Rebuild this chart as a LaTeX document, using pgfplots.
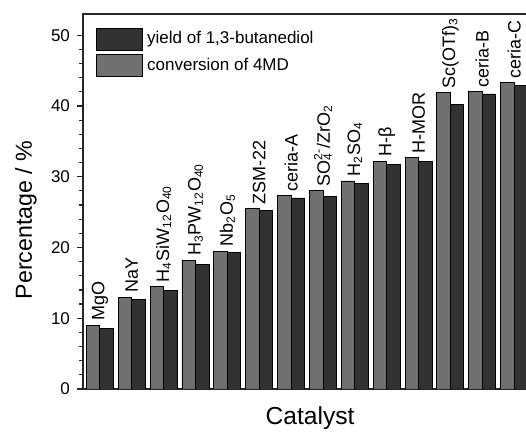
\documentclass[border=0pt]{standalone}
\usepackage{fontspec}
\setmainfont{Liberation Sans}
\usepackage{pgfplots}
\usepackage{pgfplotstable}
\pgfplotsset{compat=1.18}

\definecolor{darkbar}{RGB}{50,50,50}
\definecolor{lightbar}{RGB}{112,112,112}
\newcommand{\sbs}[1]{\textsubscript{#1}}

% conversion of 4MD (light) and yield (dark), per catalyst
\pgfplotstableread{
x conv yield label
0  9.0  8.6  MgO
1  13.0 12.7 NaY
2  14.5 13.9 {H\sbs{4}SiW\sbs{12}O\sbs{40}}
3  18.2 17.6 {H\sbs{3}PW\sbs{12}O\sbs{40}}
4  19.5 19.3 {Nb\sbs{2}O\sbs{5}}
5  25.5 25.2 ZSM-22
6  27.3 27.0 ceria-A
7  28.0 27.2 {SO\rlap{\textsuperscript{2-}}\sbs{4}\hspace{0.25em}/ZrO\sbs{2}}
8  29.4 29.1 {H\sbs{2}SO\sbs{4}}
9  32.2 31.7 {H-β}
10 32.7 32.2 H-MOR
11 41.9 40.2 {Sc(OTf)\sbs{3}}
12 42.0 41.7 ceria-B
13 43.3 42.9 ceria-C
}\catdata

\begin{document}
\begin{tikzpicture}
\begin{axis}[
    name=ax,
    scale only axis,
    width=224pt, height=187.5pt,
    xmin=-0.53, xmax=13.53,
    ymin=0, ymax=53,
    ybar,
    bar width=0.424,
    xtick=\empty,
    ytick={0,10,...,50},
    minor y tick num=4,
    ytick pos=left,
    tick align=outside,
    major tick length=3pt,
    minor tick length=2pt,
    axis line style={line width=0.8pt, black!85},
    every tick/.style={black!85, line width=0.6pt},
    tick label style={font=\fontsize{8.5}{10}\selectfont},
    /pgf/number format/assume math mode=true,
    xlabel={Catalyst},
    ylabel={Percentage / \%},
    xlabel style={font=\fontsize{12.3}{14}\selectfont,
        at={(axis description cs:0.507,-0.096)}, anchor=base},
    ylabel style={font=\fontsize{11.6}{14}\selectfont,
        at={(axis description cs:-0.114,0.451)}, anchor=base},
    legend cell align=left,
    legend style={draw=none, fill=none, at={(axis description cs:0,1)},
        anchor=north west, xshift=6.5pt, yshift=-6.5pt, inner sep=0pt,
        font=\fontsize{8.5}{10}\selectfont, row sep=1.5pt},
    patchleg/.style={legend image code/.code={
        \draw[##1] (0pt,-5.5pt) rectangle (23pt,5.5pt);}},
]
\addplot[bar shift=0.212, fill=darkbar, draw=black, line width=0.4pt, patchleg]
    table[x=x, y=yield] {\catdata};
\addlegendentry{yield of 1,3-butanediol}
\addplot[bar shift=-0.212, fill=lightbar, draw=black, line width=0.4pt, patchleg,
    nodes near coords, point meta=explicit symbolic,
    every node near coord/.append style={font=\fontsize{9}{10}\selectfont,
        xshift=3.4pt, rotate=90, anchor=west, inner sep=2pt, black}]
    table[x=x, y=conv, meta=label] {\catdata};
\addlegendentry{conversion of 4MD}
\end{axis}
\pgfresetboundingbox
\path[use as bounding box] ([xshift=-41.5pt,yshift=-21.5pt]ax.south west)
    rectangle ([xshift=221.5pt,yshift=7pt]ax.north west);
\end{tikzpicture}
\end{document}
